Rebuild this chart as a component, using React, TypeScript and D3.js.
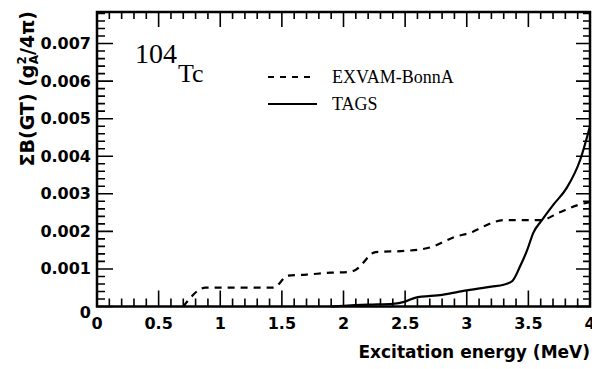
import React from 'react';
import * as d3 from 'd3';

const width = 592;
const height = 369;

// EXVAM-BonnA (dashed)
const exvamE = [0.7, 0.88, 1.0, 1.2, 1.43, 1.55, 1.7, 1.9, 2.05, 2.1, 2.26, 2.5, 2.7, 2.9, 3.05, 3.15, 3.3, 3.6, 3.75, 3.9, 4.0];
const exvamB = [0, 0.0005, 0.0005, 0.0005, 0.0005, 0.00082, 0.00085, 0.0009, 0.00092, 0.00098, 0.00145, 0.00148, 0.00157, 0.00185, 0.00199, 0.00215, 0.0023, 0.0023, 0.0025, 0.0027, 0.00278];

// TAGS (solid)
const tagsE = [1.9, 2.0, 2.2, 2.4, 2.5, 2.58, 2.8, 3.0, 3.2, 3.3, 3.37, 3.43, 3.49, 3.54, 3.61, 3.7, 3.81, 3.92, 4.0];
const tagsB = [0, 0.00002, 0.00005, 0.00007, 0.00013, 0.00023, 0.00031, 0.00043, 0.00053, 0.00058, 0.00068, 0.00105, 0.0015, 0.00196, 0.0023, 0.0027, 0.00315, 0.0039, 0.0048];

const xTicks = [0, 0.5, 1, 1.5, 2, 2.5, 3, 3.5, 4];
const xTickLabels = ['0', '0.5', '1', '1.5', '2', '2.5', '3', '3.5', '4'];
const yTicks = [0, 0.001, 0.002, 0.003, 0.004, 0.005, 0.006, 0.007];
const yTickLabels = ['0', '0.001', '0.002', '0.003', '0.004', '0.005', '0.006', '0.007'];

const plotL = 97, plotR = 590, plotT = 12, plotB = 306.5;
const boldFont = 'DejaVu Sans, sans-serif';
const serif = 'Liberation Serif, Times New Roman, serif';

const App = () => {
  const x = d3.scaleLinear().domain([0, 4]).range([plotL, plotR]);
  const y = d3.scaleLinear().domain([0, 0.00784]).range([plotB, plotT]);

  const line = d3.line<[number, number]>()
    .x(d => x(d[0]))
    .y(d => y(d[1]))
    .curve(d3.curveMonotoneX);

  const exvam = exvamE.map((e, i) => [e, exvamB[i]] as [number, number]);
  const tags = tagsE.map((e, i) => [e, tagsB[i]] as [number, number]);

  // minor ticks: 0.1 MeV and 0.0002 steps
  const xMinor = d3.range(1, 40).filter(i => i % 5 !== 0).map(i => i / 10);
  const yMinor = d3.range(1, 40).filter(i => i % 5 !== 0).map(i => i * 0.0002);

  let tickPath = '';
  xTicks.forEach(v => {
    tickPath += `M${x(v)},${plotB}V${plotB - 16}M${x(v)},${plotT}V${plotT + 15}`;
  });
  xMinor.forEach(v => {
    tickPath += `M${x(v)},${plotB}V${plotB - 8}M${x(v)},${plotT}V${plotT + 7}`;
  });
  yTicks.forEach(v => {
    tickPath += `M${plotL},${y(v)}H${plotL + 16}M${plotR},${y(v)}H${plotR - 14}`;
  });
  yMinor.forEach(v => {
    tickPath += `M${plotL},${y(v)}H${plotL + 8}M${plotR},${y(v)}H${plotR - 7}`;
  });

  return (
    <svg width={width} height={height} style={{ position: 'absolute', left: 0, top: 0, background: '#fff' }}>
      {/* frame */}
      <rect x={plotL} y={plotT} width={plotR - plotL} height={plotB - plotT} fill="none" stroke="#000" strokeWidth={2.5} />

      {/* curves */}
      <path d={line(exvam) || ''} fill="none" stroke="#000" strokeWidth={2.2} strokeDasharray="7 6" />
      <path d={line(tags) || ''} fill="none" stroke="#000" strokeWidth={2.2} />

      {/* ticks, drawn on top */}
      <path d={tickPath} fill="none" stroke="#000" strokeWidth={1.6} />

      {/* tick labels */}
      <g fontFamily={boldFont} fontWeight="bold" fontSize={16} fill="#000">
        {xTicks.map((v, i) => (
          <text key={'xl' + v} x={x(v)} y={329} textAnchor="middle">{xTickLabels[i]}</text>
        ))}
        {yTicks.map((v, i) => (
          <text key={'yl' + v} x={91} y={y(v) + (i === 0 ? 6 : 0)} textAnchor="end" dominantBaseline="central">{yTickLabels[i]}</text>
        ))}
      </g>

      {/* axis titles */}
      <text x={590} y={358} textAnchor="end" fontFamily={boldFont} fontWeight="bold" fontSize={17}>
        Excitation energy (MeV)
      </text>
      <text transform="translate(34,11) rotate(-90)" textAnchor="end" fontFamily={boldFont} fontWeight="bold" fontSize={19}>
        ΣB(GT) (g<tspan dy={-8} fontSize={12}>2</tspan><tspan dx={-8} dy={12} fontSize={12}>A</tspan><tspan dy={-4}>/4π)</tspan>
      </text>

      {/* nucleus label */}
      <text x={135} y={63} fontFamily={serif} fontSize={28}>104</text>
      <text x={178} y={82} fontFamily={serif} fontSize={26}>Tc</text>

      {/* legend */}
      <line x1={268} x2={310} y1={77} y2={77} stroke="#000" strokeWidth={2} strokeDasharray="6 6" />
      <text x={332} y={83} fontFamily={serif} fontSize={18}>EXVAM-BonnA</text>
      <line x1={268} x2={317} y1={104} y2={104} stroke="#000" strokeWidth={2} />
      <text x={332} y={110} fontFamily={serif} fontSize={18}>TAGS</text>
    </svg>
  );
};

export default App;
